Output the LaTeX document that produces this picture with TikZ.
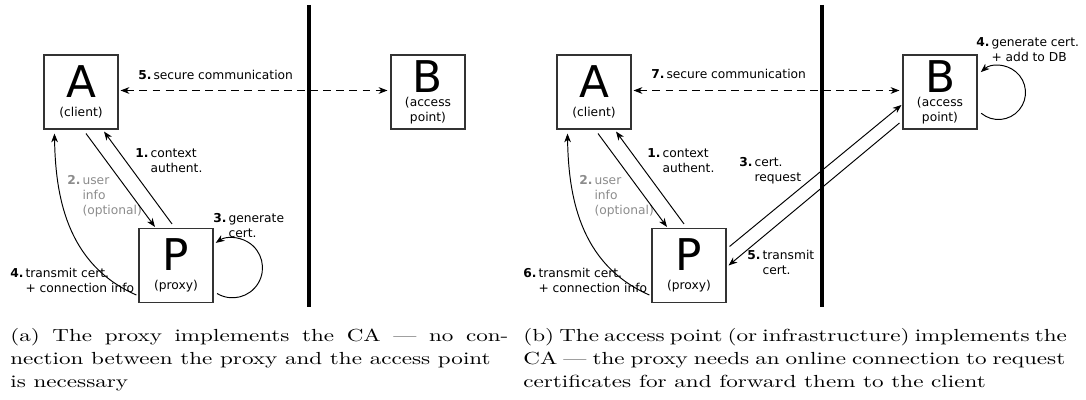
\documentclass[tikz,border=0pt]{standalone}
\usepackage{fontspec}
\usepackage{graphicx}
\newfontfamily\diagfont{DejaVu Sans}
\usetikzlibrary{arrows.meta,calc}

\newcommand{\steplbl}[2]{\textbf{#1}\,\begin{tabular}[t]{@{}l@{}}#2\end{tabular}}
\newcommand{\bigltr}[1]{{\fontsize{25}{25}\selectfont #1}}
\newcommand{\captxt}[1]{\scalebox{1.32}[1]{\begin{tabular}[t]{@{}l@{}}#1\end{tabular}}}

\begin{document}
\begin{tikzpicture}[
    x=0.5714pt, y=-0.5714pt,
    font=\diagfont\fontsize{7}{8.5}\selectfont,
    box/.style={draw=black!80, line width=0.6pt, minimum size=42.3pt,
                inner sep=0pt, align=center},
    lbl/.style={anchor=base west, inner sep=0pt},
    optlbl/.style={lbl, text=black!45},
    arr/.tip={Stealth[length=5pt,width=3.8pt,inset=1.5pt]},
    flow/.style={-arr, line width=0.55pt},
    dflow/.style={arr-arr, line width=0.55pt, dash pattern=on 4.5pt off 3pt},
    divider/.style={line width=2pt},
    captext/.style={anchor=base west, inner sep=0pt,
                font=\rmfamily\fontsize{10}{12.9}\selectfont}]

  \useasboundingbox (0,0) rectangle (1086,400);

  % (a) proxy as CA
  \node[box] (A1) at (81,92) {\bigltr{A}\\[2.4pt](client)};
  \node[box] (B1) at (428,92) {\bigltr{B}\\[-0.4pt](access\\point)};
  \node[box] (P1) at (176,265.5) {\bigltr{P}\\[2.4pt](proxy)};
  \draw[divider] (309,5) -- (309,307);

  \node[lbl] (m5a) at (138,80) {\steplbl{5.}{secure communication}};
  \node[lbl] (m1a) at (135,158) {\steplbl{1.}{context\\authent.}};
  \node[optlbl] (m2a) at (67,185) {\steplbl{2.}{user\\info\\(optional)}};
  \node[lbl] (m3a) at (213,223) {\steplbl{3.}{generate\\cert.}};
  \node[lbl] (m4a) at (10,278) {\steplbl{4.}{transmit cert.\\+ connection info}};

  \draw[dflow] ($(A1.east)+(2,-1.5)$) -- ($(B1.west)+(-3,-1.5)$);
  \draw[flow] ($(A1.south)+(5,4)$) -- ($(P1.north)+(-21,-1)$);
  \draw[flow] ($(P1.north)+(-4,-4)$) -- ($(A1.south)+(23,2)$);
  \draw[flow] ($(P1.south west)+(-2,-8)$) .. controls +(-71,-31) and +(1,60) .. ($(A1.south west)+(11,4)$);
  \draw[flow] ($(P1.east)+(3.5,28)$) arc[start angle=121, end angle=-124, radius=30];

  % (b) access point as CA
  \node[box] (A2) at (594,92) {\bigltr{A}\\[2.4pt](client)};
  \node[box] (B2) at (940,92) {\bigltr{B}\\[-0.4pt](access\\point)};
  \node[box] (P2) at (689,265.5) {\bigltr{P}\\[2.4pt](proxy)};
  \draw[divider] (822,5) -- (822,307);

  \node[lbl] (m7b) at (651,79) {\steplbl{7.}{secure communication}};
  \node[lbl] (m1b) at (647,158) {\steplbl{1.}{context\\authent.}};
  \node[optlbl] (m2b) at (579,185) {\steplbl{2.}{user\\info\\(optional)}};
  \node[lbl] (m3b) at (739,167) {\steplbl{3.}{cert.\\request}};
  \node[lbl] (m5b) at (747,260) {\steplbl{5.}{transmit\\cert.}};
  \node[lbl] (m6b) at (523,278) {\steplbl{6.}{transmit cert.\\+ connection info}};
  \node[lbl] (m4b) at (976,47) {\steplbl{4.}{generate cert.\\+ add to DB}};

  \draw[dflow] ($(A2.east)+(2,-1.5)$) -- ($(B2.west)+(-3,-1.5)$);
  \draw[flow] ($(A2.south)+(4,4)$) -- ($(P2.north)+(-22,-1)$);
  \draw[flow] ($(P2.north)+(-5,-4)$) -- ($(A2.south)+(22,2)$);
  \draw[flow] ($(P2.south west)+(-2,-8)$) .. controls +(-71,-31) and +(1,60) .. ($(A2.south west)+(11,4)$);
  \draw[flow] ($(P2.east)+(3,-19)$) -- ($(B2.west)+(-1,13)$);
  \draw[flow] ($(B2.west)+(-3,31)$) -- ($(P2.east)+(2,0)$);
  \draw[flow] ($(B2.east)+(3.6,21.2)$) arc[start angle=130, end angle=-131, radius=27];

  % captions
  \node[captext] (capa) at (10,342)
    {\captxt{\makebox[215.6pt][s]{(a) The proxy implements the CA --- no con-}\\
     nection between the proxy and the access point\\
     is necessary}};
  \node[captext] (capb) at (523,342)
    {\captxt{\makebox[231.6pt][s]{(b) The access point (or infrastructure) implements the}\\
     \makebox[234.6pt][s]{CA --- the proxy needs an online connection to request}\\
     certificates for and forward them to the client}};
\end{tikzpicture}
\end{document}
